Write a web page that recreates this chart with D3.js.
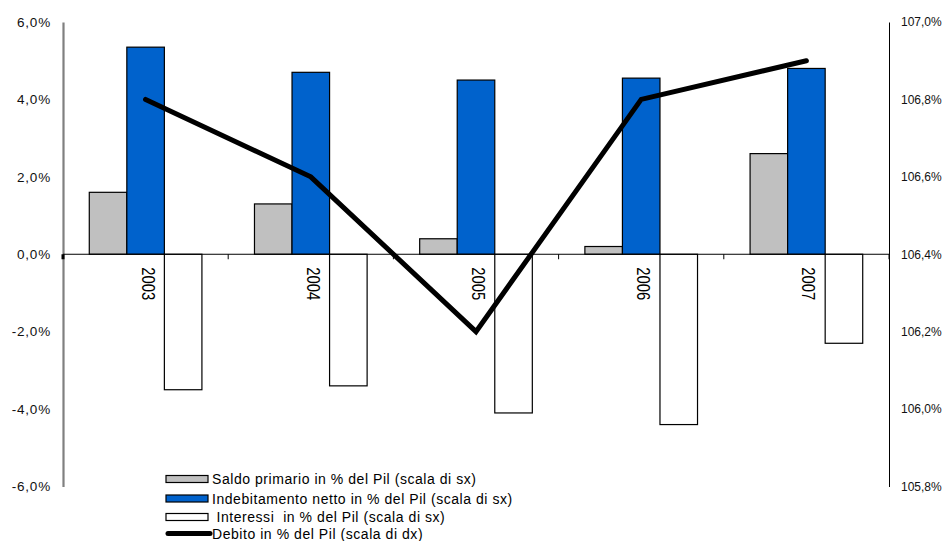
<!DOCTYPE html>
<html>
<head>
<meta charset="utf-8">
<script src="https://cdn.jsdelivr.net/npm/d3@7/dist/d3.min.js"></script>
<style>
  html, body { margin: 0; padding: 0; background: #fff; }
  svg { display: block; }
  text { font-family: Arial, "Liberation Sans", sans-serif; }
</style>
</head>
<body>
<svg id="chart" width="951" height="541"></svg>
<script>
// Years on the category axis
const years = ["2003", "2004", "2005", "2006", "2007"];
// Bar series, left scale (% of GDP)
const saldoPrimario = [1.6, 1.3, 0.4, 0.2, 2.6];
const indebitamento = [5.35, 4.7, 4.5, 4.55, 4.8];
const interessi = [-3.5, -3.4, -4.1, -4.4, -2.3];
// Line series, right scale (% of GDP)
const debito = [106.8, 106.6, 106.2, 106.8, 106.9];
// Axis ticks
const leftTicks = [-6, -4, -2, 0, 2, 4, 6];
const rightTicks = [105.8, 106.0, 106.2, 106.4, 106.6, 106.8, 107.0];
// Legend labels
const legendLabels = [
  "Saldo primario in % del Pil (scala di sx)",
  "Indebitamento netto in % del Pil (scala di sx)",
  " Interessi  in % del Pil (scala di sx)",
  "Debito in % del Pil (scala di dx)"
];

const barSeries = [
  { key: "saldo", values: saldoPrimario, fill: "#C0C0C0" },
  { key: "indeb", values: indebitamento, fill: "#0062CC" },
  { key: "inter", values: interessi, fill: "#FFFFFF" }
];

const svg = d3.select("#chart");
const plot = { left: 63, right: 889, top: 22, bottom: 486.5 };

const x = d3.scaleBand().domain(years).range([plot.left, plot.right]).padding(0);
const xInner = d3.scaleBand().domain(barSeries.map(s => s.key))
  .range([0, x.bandwidth()]).paddingInner(0).paddingOuter(0.7);
const yL = d3.scaleLinear().domain([-6, 6]).range([plot.bottom, plot.top]);
const yR = d3.scaleLinear().domain([105.8, 107.0]).range([plot.bottom, plot.top]);

// Italian-style number format: comma decimal, plain hyphen minus
const itLocale = d3.formatLocale({ decimal: ",", thousands: ".", grouping: [3], currency: ["", "€"], minus: "-" });
const fmtPct = v => itLocale.format(".1f")(v) + "%";

// Bars
barSeries.forEach(s => {
  svg.append("g").selectAll("rect")
    .data(s.values.map((v, i) => ({ year: years[i], v })))
    .join("rect")
    .attr("x", d => x(d.year) + xInner(s.key))
    .attr("width", xInner.bandwidth())
    .attr("y", d => yL(Math.max(0, d.v)))
    .attr("height", d => Math.abs(yL(d.v) - yL(0)))
    .attr("fill", s.fill)
    .attr("stroke", "#000")
    .attr("stroke-width", 1.2);
});

// Left axis (grey line, labels only)
const axisL = svg.append("g").attr("transform", `translate(${plot.left},0)`)
  .call(d3.axisLeft(yL).tickValues(leftTicks).tickFormat(fmtPct).tickSize(0).tickPadding(12));
axisL.select(".domain").attr("stroke", "#808080").attr("stroke-width", 2.2);
axisL.selectAll("text").attr("font-size", 13.5).attr("fill", "#111")
  .attr("letter-spacing", "0.8px").attr("font-family", "Arial, 'Liberation Sans', sans-serif");

// Right axis
const axisR = svg.append("g").attr("transform", `translate(${plot.right},0)`)
  .call(d3.axisRight(yR).tickValues(rightTicks).tickFormat(fmtPct).tickSize(0).tickPadding(12));
axisR.select(".domain").attr("stroke", "#000").attr("stroke-width", 1);
axisR.selectAll("text").attr("font-size", 12).attr("fill", "#111")
  .attr("font-family", "Arial, 'Liberation Sans', sans-serif");

// Category axis on the zero line
const axisX = svg.append("g").attr("transform", `translate(0,${yL(0)})`);
axisX.append("line")
  .attr("x1", plot.left).attr("x2", plot.right)
  .attr("stroke", "#000").attr("stroke-width", 1);
const boundaries = years.map(y => x(y)).concat([plot.right]);
axisX.selectAll("line.tick").data(boundaries).join("line")
  .attr("class", "tick")
  .attr("x1", d => d).attr("x2", d => d)
  .attr("y1", 0).attr("y2", 5)
  .attr("stroke", "#000").attr("stroke-width", (d, i) => i === 0 ? 3 : 1);
axisX.selectAll("text").data(years).join("text")
  .attr("transform", d => `translate(${x(d) + x.bandwidth() / 2 - 4},13) rotate(90)`)
  .attr("font-family", "'Liberation Serif', 'Times New Roman', serif")
  .attr("font-size", 18)
  .attr("textLength", 33)
  .attr("lengthAdjust", "spacingAndGlyphs")
  .attr("fill", "#000")
  .text(d => d);

// Debt line
const line = d3.line()
  .x((d, i) => x(years[i]) + x.bandwidth() / 2)
  .y(d => yR(d));
svg.append("path")
  .datum(debito)
  .attr("d", line)
  .attr("fill", "none")
  .attr("stroke", "#000")
  .attr("stroke-width", 5)
  .attr("stroke-linecap", "round")
  .attr("stroke-linejoin", "miter");

// Legend
const legendRows = [479, 498.5, 517, 533.5];
const legend = svg.append("g");
legendLabels.forEach((label, i) => {
  const cy = legendRows[i];
  if (i < 3) {
    legend.append("rect")
      .attr("x", 166).attr("y", cy - 3.5)
      .attr("width", 42).attr("height", 7)
      .attr("fill", barSeries[i].fill)
      .attr("stroke", "#000").attr("stroke-width", 1.2);
  } else {
    legend.append("line")
      .attr("x1", 168).attr("x2", 210)
      .attr("y1", cy).attr("y2", cy)
      .attr("stroke", "#000").attr("stroke-width", 5)
      .attr("stroke-linecap", "round");
  }
  legend.append("text")
    .attr("x", 212).attr("y", cy)
    .attr("dy", "0.36em")
    .attr("font-size", 14)
    .attr("letter-spacing", "0.55px")
    .attr("fill", "#000")
    .style("white-space", "pre")
    .text(label);
});
</script>
</body>
</html>
